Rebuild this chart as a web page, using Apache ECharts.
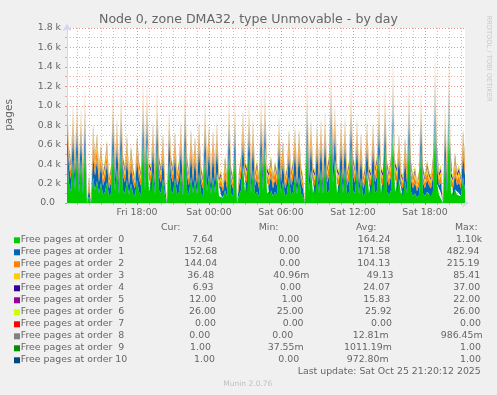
<!DOCTYPE html>
<html><head><meta charset="utf-8">
<script src="https://cdn.jsdelivr.net/npm/echarts@6/dist/echarts.min.js"></script>
<style>html,body{margin:0;padding:0;background:#F0F0F0}#c{width:497px;height:395px}</style>
</head><body><div id="c"></div><script>
// ---- data (10-minute samples, Fri 12:10 .. Sat 21:20); 0 marks the white data gaps ----
const firstSampleMinute = 12 * 60 + 10;   // minutes since Fri 00:00
const sampleStepMinutes = 10;

const order0 = [
510,200,115,450,130,510,100,450,85,590,
0,70,0,270,130,230,100,210,85,115,
220,70,100,570,115,360,85,570,130,100,
240,85,200,100,70,240,115,85,660,130,
630,115,100,320,85,590,130,100,250,70,
0,440,130,100,260,85,115,320,70,600,
130,85,270,100,240,85,320,100,70,490,
115,290,85,270,100,320,70,85,55,130,
70,530,100,70,530,0,85,130,390,115,
100,500,100,350,85,115,70,530,130,600,
100,85,130,70,115,85,370,100,220,70,
100,270,85,115,290,85,270,100,70,0,
680,115,340,100,85,310,100,350,85,410,
100,130,780,200,450,100,85,350,100,370,
85,115,600,130,100,350,85,260,70,100,
330,100,85,320,100,130,520,100,85,590,
115,85,130,800,115,100,250,85,70,230,
100,660,115,70,100,55,85,580,100,70,
115,85,70,130,850,200,85,100,0,480,
100,900,85,70,140,85,100,70,270,130];
const order1 = [
320,180,130,300,150,320,110,300,95,330,
0,80,0,240,150,220,110,190,95,130,
200,80,110,330,130,280,95,330,150,110,
220,95,180,110,80,220,130,95,350,150,
340,130,110,280,95,330,150,110,230,80,
0,300,150,110,250,95,130,280,80,330,
150,95,250,110,220,95,280,110,80,310,
130,260,95,250,110,280,80,95,65,150,
80,320,110,80,320,0,95,150,280,130,
110,310,110,280,95,130,80,320,150,330,
110,95,150,80,130,95,280,110,210,80,
110,250,95,130,260,95,250,110,80,0,
350,130,280,110,95,270,110,280,95,290,
110,150,370,180,300,110,95,280,110,280,
95,130,330,150,110,280,95,240,80,110,
280,110,95,280,110,150,320,110,95,330,
130,95,150,460,130,110,240,95,80,220,
110,350,130,80,110,65,95,330,110,80,
130,95,80,150,420,180,95,110,0,310,
110,380,95,80,160,95,110,80,250,150];
const order2 = [
130,100,85,130,100,130,70,130,60,140,
0,50,0,170,100,150,70,100,60,85,
110,50,70,140,85,130,60,140,100,70,
120,60,100,70,50,120,85,60,150,100,
140,85,70,130,60,140,100,70,120,50,
0,130,100,70,120,60,85,130,50,140,
100,60,130,70,120,60,130,70,50,130,
85,130,60,130,70,130,50,60,40,100,
50,130,70,50,130,0,60,100,160,85,
70,130,70,130,60,85,50,130,100,140,
70,60,100,50,85,60,130,70,110,50,
70,130,60,85,130,60,130,70,50,0,
150,85,130,70,60,130,70,130,60,130,
70,100,160,100,130,70,60,130,70,130,
60,85,140,100,70,130,60,120,50,70,
130,70,60,130,70,100,130,70,60,140,
85,60,100,150,85,70,120,60,50,120,
70,150,85,50,70,40,60,140,70,50,
85,60,50,100,200,100,60,70,0,130,
70,170,60,50,110,60,70,50,130,100];
const order3 = [
60,45,50,70,40,65,35,55,30,75,
0,40,0,80,50,70,45,55,35,50,
60,30,45,65,50,55,35,60,50,45,
70,40,55,45,30,60,50,40,75,45,
70,50,45,60,35,65,50,45,65,30,
0,55,45,40,60,35,50,65,30,70,
50,40,60,45,55,40,60,45,35,65,
50,60,40,55,45,60,35,40,25,50,
35,70,45,35,65,0,40,50,75,50,
45,65,45,60,40,50,35,65,50,70,
45,40,50,35,45,40,60,45,55,35,
45,60,40,50,55,40,60,45,35,0,
75,50,60,45,40,55,45,60,40,65,
45,50,80,55,60,45,40,60,45,60,
40,50,70,50,45,60,40,55,35,45,
60,45,40,55,45,50,65,45,40,70,
50,40,50,85,50,45,55,40,35,55,
45,70,50,35,45,30,40,65,45,35,
50,40,35,50,80,55,40,45,0,60,
45,80,40,35,55,40,45,35,55,50];
const order4 = [
30,20,25,35,15,30,20,28,10,37,
0,18,0,32,22,28,15,25,20,24,
26,12,20,34,22,30,18,35,24,20,
28,15,25,20,8,30,22,18,36,25,
34,20,22,30,15,33,25,20,28,12,
0,30,22,20,28,15,24,30,10,35,
25,18,28,20,26,15,30,22,14,32,
24,28,16,26,20,30,12,18,0,24,
15,32,20,14,30,0,18,24,34,22,
20,30,22,28,16,24,14,32,25,35,
22,18,25,15,20,18,28,22,26,12,
20,30,18,24,28,16,30,22,14,0,
36,22,28,20,18,26,20,30,16,32,
20,25,37,26,30,22,18,28,20,30,
18,24,34,25,20,30,16,26,14,22,
28,20,16,30,22,25,32,20,18,34,
24,18,25,36,22,20,26,18,12,28,
22,34,24,14,20,8,18,32,22,15,
24,18,14,25,36,26,18,22,0,30,
20,36,18,14,26,18,22,15,28,24];
const order5 = [
18,14,16,20,12,18,14,17,10,22,
0,12,0,20,15,18,13,16,14,15,
17,10,14,20,15,18,12,20,16,14,
18,12,16,14,8,18,15,13,21,16,
20,14,15,18,12,20,16,14,18,10,
0,18,15,14,17,12,16,18,6,21,
16,13,18,14,17,12,18,15,11,19,
16,18,12,17,14,18,10,13,1,16,
12,20,14,11,19,0,13,16,20,15,
14,18,15,17,12,16,11,20,16,21,
15,13,16,12,14,13,18,15,17,10,
14,18,13,16,17,12,18,15,12,0,
21,15,18,14,13,17,14,18,12,20,
14,16,22,17,18,15,13,18,14,18,
13,16,20,16,14,18,12,17,11,15,
18,14,12,18,15,16,20,14,13,21,
16,13,16,22,15,14,17,13,10,18,
15,21,16,11,14,6,13,20,15,12,
16,13,11,16,22,17,13,15,0,18,
14,22,13,11,17,13,15,12,18,16];
const order6 = [
26,26,26,26,25,26,26,26,26,26,
0,26,0,26,26,26,26,25,26,26,
26,26,26,26,26,26,25,26,26,26,
26,25,26,26,26,26,26,26,26,26,
26,26,26,26,26,26,26,26,26,25,
0,26,26,26,26,26,26,26,25,26,
26,26,26,26,26,26,26,26,26,26,
26,26,26,26,26,26,26,26,25,26,
26,26,26,26,26,0,26,26,26,26,
26,26,26,26,26,26,26,26,26,26,
26,26,26,25,26,26,26,26,26,26,
26,26,26,26,26,26,26,26,26,0,
26,26,26,26,26,26,26,26,26,26,
26,26,26,26,26,26,26,26,26,26,
26,26,26,26,26,26,26,26,25,26,
26,26,26,26,26,26,26,26,26,26,
26,26,26,26,26,26,26,26,26,26,
26,26,26,26,26,25,26,26,26,26,
26,26,26,26,26,26,26,26,0,26,
26,26,26,26,26,26,26,26,26,26];
const order7 = [
0,0,0,0,0,0,0,0,0,0, 0,0,0,0,0,0,0,0,0,0,
0,0,0,0,0,0,0,0,0,0, 0,0,0,0,0,0,0,0,0,0,
0,0,0,0,0,0,0,0,0,0, 0,0,0,0,0,0,0,0,0,0,
0,0,0,0,0,0,0,0,0,0, 0,0,0,0,0,0,0,0,0,0,
0,0,0,0,0,0,0,0,0,0, 0,0,0,0,0,0,0,0,0,0,
0,0,0,0,0,0,0,0,0,0, 0,0,0,0,0,0,0,0,0,0,
0,0,0,0,0,0,0,0,0,0, 0,0,0,0,0,0,0,0,0,0,
0,0,0,0,0,0,0,0,0,0, 0,0,0,0,0,0,0,0,0,0,
0,0,0,0,0,0,0,0,0,0, 0,0,0,0,0,0,0,0,0,0,
0,0,0,0,0,0,0,0,0,0, 0,0,0,0,0,0,0,0,0,0];
const order8 = [
0,0,0,0,0,0,0,0,0,0, 0,0,0,0,0,0,0,0,0,0,
0,0,0,0,0,0,0,0,0,0, 0,0,0,0,0,0,0,0,0,0,
0,0,0,0,0,0,0,0,0,0, 0,0,0,0,0,0,0,0,0,0,
0,0,0,0,0,0,0,0,0,0, 0,0,0,0,0,0,0,0,0,0,
0,0,0,0,0,0,0,0,0,0, 0,0,0,0,0,0,0,0,0,0,
0,0,0,0,0,0,0,0,0,0, 0,0,0,0,0,0,0,0,0,0,
0,0,0,0,0,0,0,0,0,0, 0,0,1,0,0,0,0,0,0,0,
0,0,0,0,0,0,0,0,0,0, 0,0,0,0,0,0,0,0,0,0,
0,0,0,0,0,0,0,0,0,0, 0,0,0,0,0,0,0,0,0,0,
0,0,0,0,0,0,0,0,0,0, 0,0,0,0,0,0,0,0,0,0];
const order9 = [
1,1,1,1,1,1,1,1,1,1, 0,1,0,1,1,1,1,1,1,1,
1,1,1,1,1,1,1,1,1,1, 1,1,1,1,1,1,1,1,1,1,
1,1,1,1,1,1,1,1,1,1, 0,1,1,1,1,1,1,1,1,1,
1,1,1,1,1,1,1,1,1,1, 1,1,1,1,1,1,1,1,0,1,
1,1,1,1,1,0,1,1,1,1, 1,1,1,1,1,1,1,1,1,1,
1,1,1,1,1,1,1,1,1,1, 1,1,1,1,1,1,1,1,1,0,
1,1,1,1,1,1,1,1,1,1, 1,1,1,1,1,1,1,1,1,1,
1,1,1,1,1,1,1,1,1,1, 1,1,1,1,1,1,1,1,1,1,
1,1,1,1,1,1,1,1,1,1, 1,1,1,1,1,1,1,1,1,1,
1,1,1,1,1,1,1,1,0,1, 1,1,1,1,1,1,1,1,1,1];
const order10 = [
1,1,1,1,1,1,1,1,0,1, 0,1,0,1,1,1,1,1,1,1,
1,1,1,1,1,1,1,1,1,1, 1,1,1,1,1,1,1,1,1,1,
1,1,1,1,1,1,1,1,1,1, 0,1,1,1,1,1,1,1,1,1,
1,1,1,1,1,1,1,1,1,1, 1,1,1,1,1,1,1,1,0,1,
1,1,1,1,1,0,1,1,1,1, 1,1,1,1,1,1,1,1,1,1,
1,1,1,1,1,1,1,1,1,1, 1,1,1,1,1,1,1,1,0,0,
1,1,1,1,1,1,1,1,1,1, 1,1,1,1,1,1,1,1,1,1,
1,1,1,1,1,1,1,1,1,1, 1,1,1,1,1,0,1,1,1,1,
1,1,1,1,1,1,1,1,1,1, 1,1,1,1,1,1,1,1,0,1,
1,1,1,1,1,1,1,1,1,1, 1,1,1,1,1,1,1,0,1,1];

const seriesNames = ['Free pages at order  0','Free pages at order  1','Free pages at order  2','Free pages at order  3','Free pages at order  4','Free pages at order  5','Free pages at order  6','Free pages at order  7','Free pages at order  8','Free pages at order  9','Free pages at order 10'];
const seriesValues = [order0,order1,order2,order3,order4,order5,order6,order7,order8,order9,order10];
const seriesColors = ['#00CC00','#0066B3','#FF8000','#FFCC00','#330099','#990099','#CCFF00','#FF0000','#808080','#008F00','#00487D'];

const curText = ['7.64','152.68','144.04','36.48','6.93','12.00','26.00','0.00','0.00','1.00','1.00'];
const minText = ['0.00','0.00','0.00','40.96m','0.00','1.00','25.00','0.00','0.00','37.55m','0.00'];
const avgText = ['164.24','171.58','104.13','49.13','24.07','15.83','25.92','0.00','12.81m','1011.19m','972.80m'];
const maxText = ['1.10k','482.94','215.19','85.41','37.00','22.00','26.00','0.00','986.45m','1.00','1.00'];
const headerText = ['Cur:','Min:','Avg:','Max:'];

const xLabelHours = [18,24,30,36,42];
const xLabelTexts = ['Fri 18:00','Sat 00:00','Sat 06:00','Sat 12:00','Sat 18:00'];
const yLabelTexts = ['0.0','0.2 k','0.4 k','0.6 k','0.8 k','1.0 k','1.2 k','1.4 k','1.6 k','1.8 k'];

const titleText = 'Node 0, zone DMA32, type Unmovable - by day';
const yAxisName = 'pages';
const lastUpdate = 'Last update: Sat Oct 25 21:20:12 2025';
const footer = 'Munin 2.0.76';
const watermark = 'RRDTOOL / TOBI OETIKER';

// ---- layout / style ----
const FONT = '"DejaVu Sans"';
const TXT = '#666666';
const GRID_V_MINOR = 'rgba(143,143,143,0.55)';
const GRID_H = 'rgba(222,79,79,0.45)';
const GRID_MAJOR = 'rgba(222,79,79,0.6)';
const DOT = [1, 2];
const AXIS_COL = '#CFD6F8';
const fs = 9.4;
const headerX = [161, 258.7, 356, 455];
const curX = [192.3,184.3,184.3,187.3,192.7,189.3,189,195,189.3,190,194];
const minX = [278.3,279.3,279.3,273.3,280,281.7,276.7,282.7,272.3,267.7,278.3];
const avgX = [357.7,357.3,357.3,366.7,363.3,363.3,365,371,352.7,344,346.7];
const maxX = [456,446.7,446.7,453.3,453.3,453.3,453.3,460,440.7,460,460];
const rowY0 = 239.8, rowStep = 12;
const plotTop = 28, plotBottom = 203;

// category per sample: minutes since Fri 00:00
const sampleMinutes = order0.map((_, i) => String(firstSampleMinute + i * sampleStepMinutes));
const isHour = v => (+v) % 60 === 0;
const isSixHour = v => (+v) % 360 === 0;

function rgba(hex, a) {
  const n = parseInt(hex.slice(1), 16);
  return 'rgba(' + (n >> 16 & 255) + ',' + (n >> 8 & 255) + ',' + (n & 255) + ',' + a + ')';
}
// thin spikes render pale in the original: fade the fill with height
const fadeStops = [[0, 0.22], [0.33, 0.28], [0.5, 0.42], [0.64, 0.7], [0.75, 0.92], [0.83, 1], [1, 1]];
function fadeFill(hex) {
  return new echarts.graphic.LinearGradient(0, plotTop, 0, plotBottom,
    fadeStops.map(s => ({ offset: s[0], color: rgba(hex, s[1]) })), true);
}

const series = seriesValues.map((vals, s) => ({
  name: seriesNames[s], type: 'line', stack: 'total',
  showSymbol: false, symbol: 'none',
  lineStyle: { width: 0 }, itemStyle: { color: seriesColors[s] },
  areaStyle: { color: fadeFill(seriesColors[s]), opacity: 1 },
  data: vals
}));

function txt(text, x, y, opts) {
  opts = opts || {};
  return { type: 'text', x: x, y: y, rotation: opts.rot || 0, silent: true,
    style: { text: text, fill: opts.color || TXT, font: (opts.size || fs) + 'px ' + FONT,
      align: opts.align || 'left', verticalAlign: 'middle' } };
}

const graphics = [];
graphics.push(txt(titleText, 248.5, 19.6, { size: 12.6, align: 'center' }));
graphics.push(txt(yAxisName, 9.4, 115, { size: 10.5, align: 'center', rot: Math.PI / 2 }));
graphics.push(txt(watermark, 488.5, 58.5, { size: 6.7, align: 'center', rot: -Math.PI / 2, color: '#C8C8C8' }));
headerText.forEach((h, k) => graphics.push(txt(h, headerX[k], rowY0 - rowStep)));
seriesNames.forEach((n, s) => {
  const y = rowY0 + rowStep * s;
  graphics.push({ type: 'rect', silent: true, shape: { x: 14, y: y - 2.5, width: 6, height: 6 }, style: { fill: seriesColors[s] } });
  graphics.push(txt(n, 20.7, y));
  graphics.push(txt(curText[s], curX[s], y));
  graphics.push(txt(minText[s], minX[s], y));
  graphics.push(txt(avgText[s], avgX[s], y));
  graphics.push(txt(maxText[s], maxX[s], y));
});
graphics.push(txt(lastUpdate, 297.7, rowY0 + rowStep * 11));
graphics.push(txt(footer, 223.3, 384, { size: 7.5, color: '#C0C0C0' }));

const chart = echarts.init(document.getElementById('c'), null, { renderer: 'canvas' });
chart.setOption({
  animation: false,
  backgroundColor: '#F0F0F0',
  grid: { left: 67, top: plotTop, width: 398, height: plotBottom - plotTop, show: true, backgroundColor: '#FFFFFF', borderWidth: 0 },
  xAxis: [{
    type: 'category', data: sampleMinutes, boundaryGap: false,
    axisLine: { show: true, lineStyle: { color: AXIS_COL }, symbol: ['none', 'arrow'], symbolSize: [7, 7], symbolOffset: [0, 4] },
    axisTick: { show: true, length: 2, interval: (i, v) => isHour(v), lineStyle: { color: GRID_V_MINOR } },
    axisLabel: { margin: 5, color: TXT, fontFamily: 'DejaVu Sans', fontSize: fs,
      interval: (i, v) => xLabelHours.indexOf((+v) / 60) >= 0,
      formatter: v => { const k = xLabelHours.indexOf((+v) / 60); return k >= 0 ? xLabelTexts[k] : ''; } },
    splitLine: { show: true, interval: (i, v) => isHour(v) && !isSixHour(v), lineStyle: { color: GRID_V_MINOR, width: 1, type: DOT } }
  }, {
    type: 'category', data: sampleMinutes, boundaryGap: false, position: 'bottom',
    axisLine: { show: false }, axisLabel: { show: false },
    axisTick: { show: true, length: 2, interval: (i, v) => isSixHour(v), lineStyle: { color: GRID_MAJOR } },
    splitLine: { show: true, interval: (i, v) => isSixHour(v), lineStyle: { color: GRID_MAJOR, width: 1, type: DOT } }
  }],
  yAxis: {
    type: 'value', min: 0, max: 1800, interval: 200,
    axisLine: { show: true, lineStyle: { color: AXIS_COL }, symbol: ['none', 'arrow'], symbolSize: [7, 7], symbolOffset: [0, 4] },
    axisTick: { show: true, length: 2, lineStyle: { color: GRID_MAJOR } },
    minorTick: { show: true, splitNumber: 2, length: 2, lineStyle: { color: GRID_H } },
    axisLabel: { margin: 6, color: TXT, fontFamily: 'DejaVu Sans', fontSize: fs,
      formatter: v => { const t = yLabelTexts[Math.round(v / 200)]; return v === 0 ? t + '  ' : t; } },
    splitLine: { show: true, lineStyle: { color: GRID_MAJOR, width: 1, type: DOT } },
    minorSplitLine: { show: true, lineStyle: { color: GRID_H, width: 1, type: DOT } }
  },
  series: series,
  graphic: graphics
});
</script></body></html>
